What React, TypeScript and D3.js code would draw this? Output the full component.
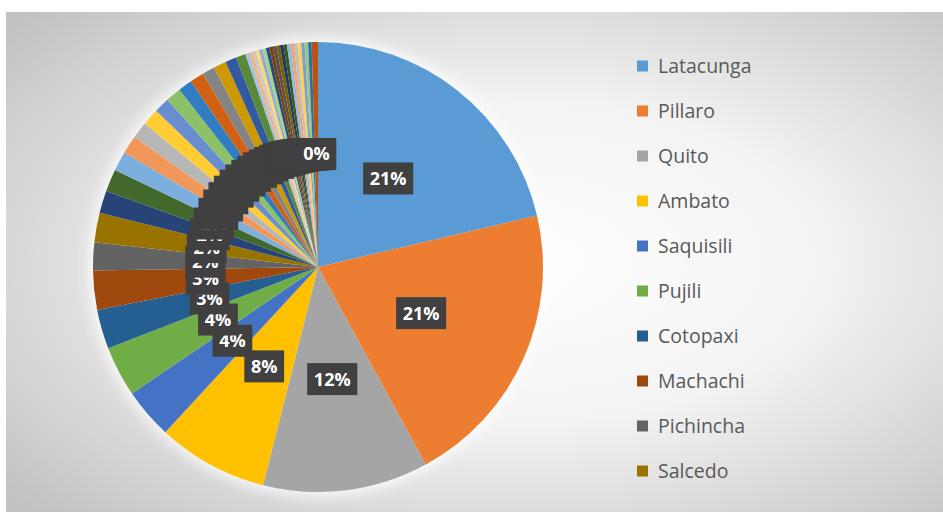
import React from "react";
import * as d3 from "d3";

const categories = ["Latacunga", "Pillaro", "Quito", "Ambato", "Saquisili", "Pujili", "Cotopaxi", "Machachi", "Pichincha", "Salcedo"];
const mainValues = [21.2, 20.6, 11.8, 7.9, 3.6, 3.6, 2.8, 2.8, 2.0, 2.1];
const otherValues = [
  1.6, 1.6, 1.4, 1.3, 1.2, 1.2, 1.1, 1.1, 1.0, 1.0, 0.9, 0.9, 0.8, 0.7,
  0.25, 0.25, 0.25, 0.25, 0.25, 0.25, 0.25, 0.25, 0.25, 0.25,
  0.25, 0.25, 0.25, 0.25, 0.25, 0.25, 0.25, 0.25, 0.25, 0.45,
];
const palette = [
  "#5B9BD5", "#ED7D31", "#A5A5A5", "#FFC000", "#4472C4", "#70AD47",
  "#255E91", "#9E480E", "#636363", "#997300", "#264478", "#43682B",
  "#7CAFDD", "#F1975A", "#B7B7B7", "#FFCD33", "#698ED0", "#8CC168",
  "#327DC2", "#D26012", "#848484", "#CC9A00", "#335AA1", "#5A8A39",
  "#9DC3E6", "#F4B183", "#C9C9C9", "#FFD966", "#8FAADC", "#A9D18E",
  "#1F4E79", "#843C0C", "#525252", "#7F6000", "#203864", "#385723",
  "#8CBAE1", "#F2A36F", "#C0C0C0", "#FFD24D", "#7C9DD7", "#9AC97B",
  "#2C6EA9", "#B85310",
];

const W = 943;
const H = 515;

type Slice = { name: string; value: number; color: string };

export default function App() {
  const data: Slice[] = [
    ...mainValues.map((v, i) => ({ name: categories[i], value: v, color: palette[i] })),
    ...otherValues.map((v, i) => ({ name: "otro" + (i + 11), value: v, color: palette[i + 10] })),
  ];
  const total = d3.sum(data, (d) => d.value);
  const cx = 318;
  const cy = 267;
  const R = 225;
  const pie = d3.pie<Slice>().sort(null).value((d) => d.value);
  const arcs = pie(data);
  const arc = d3.arc<d3.PieArcDatum<Slice>>().innerRadius(0).outerRadius(R);
  const labelArc = d3.arc<d3.PieArcDatum<Slice>>().innerRadius(113).outerRadius(113);
  const legendY = d3.scalePoint<string>().domain(categories).range([66, 471]);
  const fs = 18;

  return (
    <svg width={W} height={H} style={{ position: "absolute", left: 0, top: 0 }}>
      <defs>
        <radialGradient id="bg" cx="0.55" cy="0.5" r="0.72">
          <stop offset="0" stopColor="#ffffff" />
          <stop offset="0.45" stopColor="#f3f3f3" />
          <stop offset="1" stopColor="#c2c2c2" />
        </radialGradient>
        <filter id="glow" x="-20%" y="-20%" width="140%" height="140%">
          <feGaussianBlur stdDeviation="7" />
        </filter>
      </defs>
      <rect x={0} y={0} width={W} height={H} fill="#ffffff" />
      <rect x={6} y={12} width={W - 6} height={500} fill="url(#bg)" />
      <circle cx={cx} cy={cy} r={R + 4} fill="#ffffff" opacity={0.85} filter="url(#glow)" />
      <g transform={`translate(${cx},${cy})`}>
        {arcs.map((a, i) => (
          <path key={i} d={arc(a) || ""} fill={a.data.color} />
        ))}
        {arcs.map((a, i) => {
          const [lx, ly] = labelArc.centroid(a);
          const txt = Math.round((a.data.value / total) * 100) + "%";
          const digits = txt.length - 1;
          const tw = digits * 0.572 * fs + 0.86 * fs;
          const bw = tw + 14;
          const bh = 32;
          return (
            <g key={"l" + i} transform={`translate(${lx},${ly})`}>
              <rect x={-bw / 2} y={-bh / 2} width={bw} height={bh} fill="#404040" />
              <text
                textAnchor="middle"
                dy="0.36em"
                fill="#ffffff"
                fontFamily="'Open Sans', sans-serif"
                fontWeight={700}
                fontSize={fs}
              >
                {txt}
              </text>
            </g>
          );
        })}
      </g>
      <g>
        {categories.map((c, i) => (
          <g key={c} transform={`translate(0,${legendY(c)})`}>
            <rect x={637} y={-5.5} width={11} height={11} fill={palette[i]} />
            <text x={658} dy="0.35em" fill="#595959" fontFamily="'Open Sans', sans-serif" fontSize={19.5}>
              {c}
            </text>
          </g>
        ))}
      </g>
    </svg>
  );
}
